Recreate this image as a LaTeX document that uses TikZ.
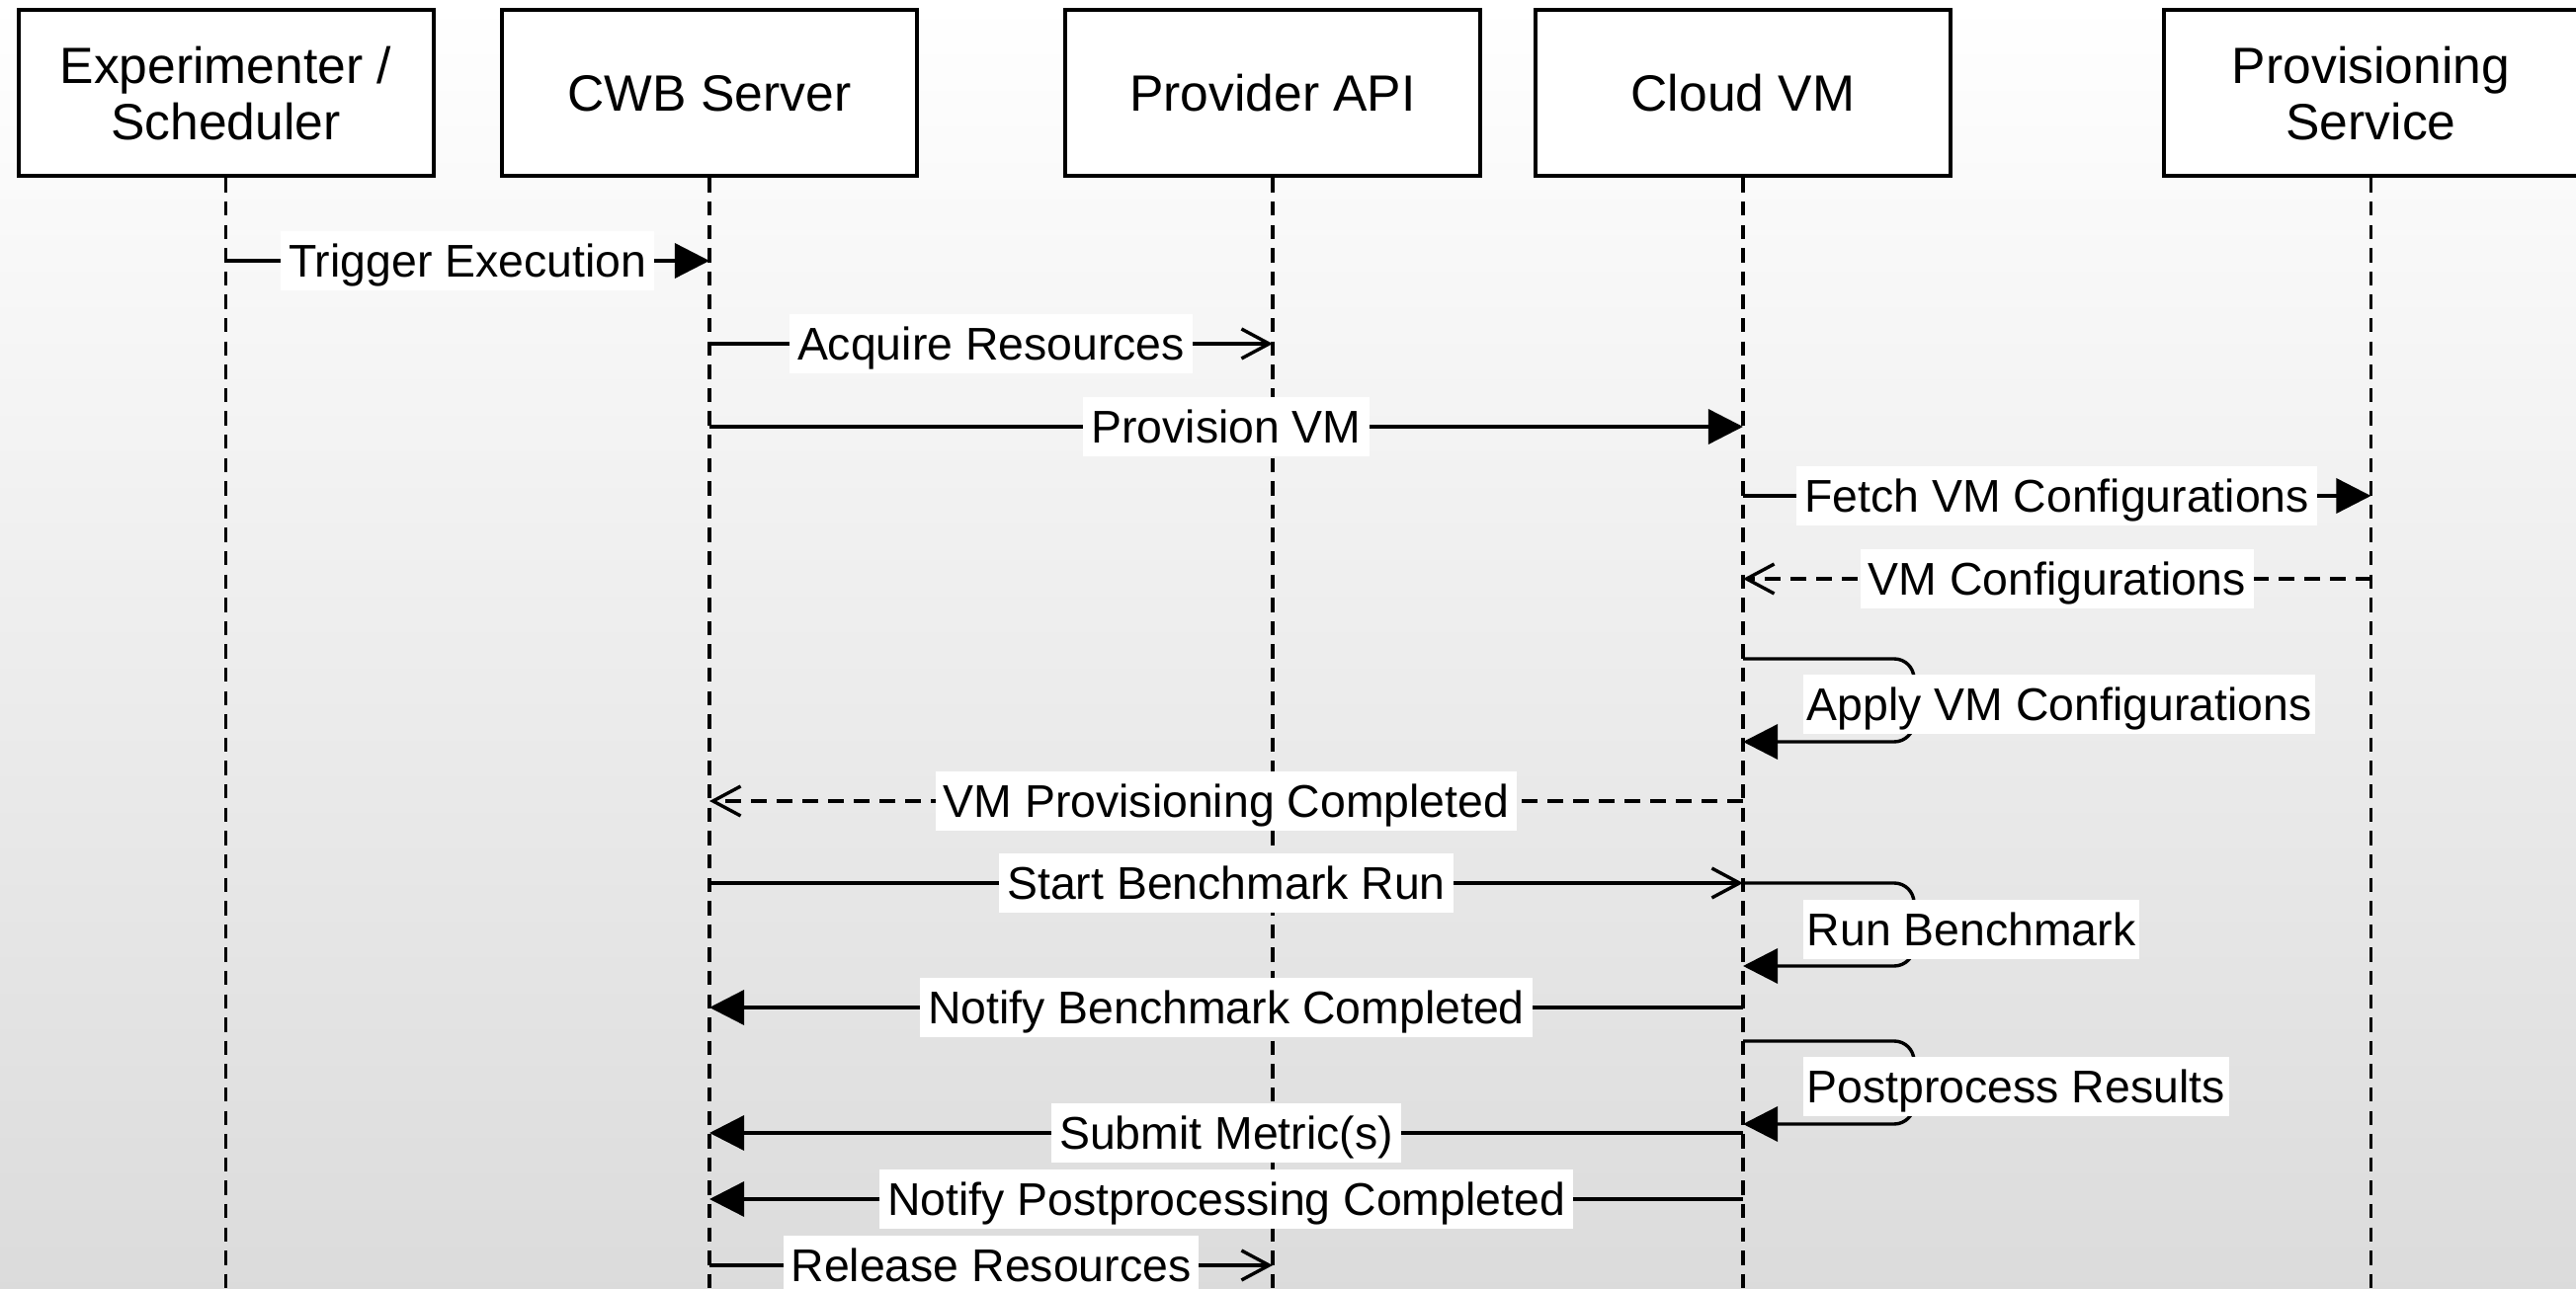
\documentclass[tikz,border=0pt]{standalone}
\usepackage{fontspec}
\setmainfont{Liberation Sans}
\usetikzlibrary{arrows.meta,calc}
\begin{document}
\begin{tikzpicture}[x=0.25pt,y=-0.25pt,
  actor/.style={draw=black, line width=1pt, fill=white, minimum width=105pt, minimum height=42pt, inner sep=0pt, align=center, font=\fontsize{12.9}{14.25}\selectfont},
  life/.style={line width=0.85pt, dash pattern=on 3.6pt off 2.3pt},
  msg/.style={line width=0.85pt},
  sync/.style={msg, -{Triangle[length=8.8pt,width=8.8pt]}},
  async/.style={msg, -{Straight Barb[length=7pt,width=7.5pt]}},
  reply/.style={msg, dash pattern=on 4pt off 2.5pt, -{Straight Barb[length=7pt,width=7.5pt]}},
  selfloop/.style={msg, rounded corners=5pt, -{Triangle[length=8.8pt,width=8.8pt]}},
  lbl/.style={fill=white, inner xsep=2pt, inner ysep=1.2pt, text height=10.3pt, text depth=2.1pt, font=\fontsize{11.6}{13}\selectfont},
  slbl/.style={lbl, anchor=west, inner xsep=1pt},
]
\useasboundingbox (0,0) rectangle (2607,1305);
\clip (0,0) rectangle (2607,1305);
\shade[top color=white, bottom color=black!14] (0,0) rectangle (2607,1305);

% actors
\node[actor] (exp)  at (228.5,94.5) {Experimenter /\\Scheduler};
\node[actor] (cwb)  at (718,94.5)   {CWB Server};
\node[actor] (api)  at (1288,94.5)  {Provider API};
\node[actor] (vm)   at (1764,94.5)  {Cloud VM};
\node[actor] (prov) at (2399.5,94.5) {Provisioning\\Service};

% lifelines
\foreach \a in {exp,cwb,api,vm,prov}
  \draw[life] (\a.south) -- (\a.south |- 0,1305);

% messages
\draw[sync]  (exp |- 0,264) -- node[lbl]{Trigger Execution} (cwb |- 0,264);
\draw[async] (cwb |- 0,348) -- node[lbl]{Acquire Resources} (api |- 0,348);
\draw[sync]  (cwb |- 0,432) -- node[lbl]{Provision VM} (vm |- 0,432);
\draw[sync]  (vm |- 0,502) -- node[lbl]{Fetch VM Configurations} (prov |- 0,502);
\draw[reply] (prov |- 0,586) -- node[lbl]{VM Configurations} (vm |- 0,586);

\draw[selfloop] (vm |- 0,667) -- ++(173,0) -- ++(0,84) -- (vm |- 0,751);
\node[slbl] (lapply) at ($(vm |- 0,713)+(60,0)$) {Apply VM Configurations\hspace{3pt}};

\draw[reply] (vm |- 0,811) -- node[lbl]{VM Provisioning Completed} (cwb |- 0,811);
\draw[async] (cwb |- 0,894) -- node[lbl]{Start Benchmark Run} (vm |- 0,894);

\draw[selfloop] (vm |- 0,894) -- ++(173,0) -- ++(0,84) -- (vm |- 0,978);
\node[slbl] (lrun) at ($(vm |- 0,941)+(60,0)$) {Run Benchmark\hspace{3pt}};

\draw[sync] (vm |- 0,1020) -- node[lbl]{Notify Benchmark Completed} (cwb |- 0,1020);

\draw[selfloop] (vm |- 0,1054) -- ++(173,0) -- ++(0,84) -- (vm |- 0,1138);
\node[slbl] (lpost) at ($(vm |- 0,1100)+(60,0)$) {Postprocess Results\hspace{3pt}};

\draw[sync]  (vm |- 0,1147) -- node[lbl]{Submit Metric(s)} (cwb |- 0,1147);
\draw[sync]  (vm |- 0,1214) -- node[lbl]{Notify Postprocessing Completed} (cwb |- 0,1214);
\draw[async] (cwb |- 0,1281) -- node[lbl]{Release Resources} (api |- 0,1281);
\end{tikzpicture}
\end{document}
